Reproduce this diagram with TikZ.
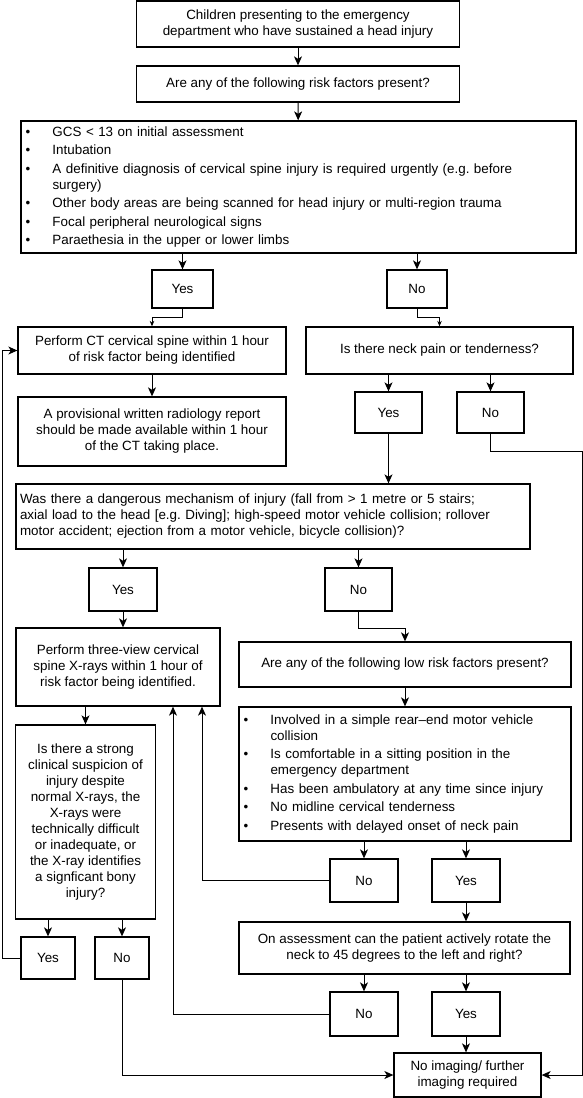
\documentclass[tikz,border=0pt]{standalone}
\usepackage{fontspec}
\setmainfont{Liberation Sans}
\usetikzlibrary{arrows.meta, positioning, calc}

\newcommand{\txt}{\fontsize{13.4}{16}\selectfont\frenchspacing}
\newcommand{\bul}[1]{\noindent\hangindent=27pt\hangafter=1\makebox[27pt][l]{\textbullet}#1\par}

\begin{document}
\begin{tikzpicture}[
    x=1pt, y=-1pt,
    box/.style={draw, line width=1.3pt, align=center, inner sep=0pt, font=\txt},
    lst/.style={draw, line width=1.3pt, align=left, inner xsep=4.5pt, inner ysep=0pt, font=\txt\setlength{\parskip}{2.5pt}},
    arr/.style={-{Stealth[length=9pt, width=8pt, inset=2.5pt]}, line width=1pt},
    arrs/.style={-{Stealth[length=5.5pt, width=4.5pt]}, line width=0.8pt}
]
\useasboundingbox (0,0) rectangle (583,1098);

% Top: presentation and high risk factors
\node[box, minimum width=323pt, minimum height=46pt] (start) at (298,24) {Children presenting to the emergency\\department who have sustained a head injury};
\node[box, minimum width=323pt, minimum height=36pt] (riskq) at (298,84) {Are any of the following risk factors present?};
\node[lst, text width=546pt, minimum height=132pt] (risklist) at (298.5,187) {%
\bul{GCS < 13 on initial assessment}
\bul{Intubation}
\bul{A definitive diagnosis of cervical spine injury is required urgently (e.g. before\newline surgery)}
\bul{Other body areas are being scanned for head injury or multi-region trauma}
\bul{Focal peripheral neurological signs}
\bul{Paraethesia in the upper or lower limbs}};
\node[box, minimum width=61pt, minimum height=38pt] (yesA) at (182.5,289) {Yes};
\node[box, minimum width=60pt, minimum height=38pt] (noA) at (417,289) {No};

% CT branch
\node[box, minimum width=268pt, minimum height=47pt] (ct) at (152,350.5) {Perform CT cervical spine within 1 hour\\of risk factor being identified};
\node[box, minimum width=268pt, minimum height=69pt] (report) at (152,431.5) {A provisional written radiology report\\should be made available within 1 hour\\of the CT taking place.};

% Neck pain
\node[box, minimum width=267pt, minimum height=47pt] (neck) at (439.5,350.5) {Is there neck pain or tenderness?};
\node[box, minimum width=67pt, minimum height=41pt] (yesB) at (388.5,412.5) {Yes};
\node[box, minimum width=67pt, minimum height=41pt] (noB) at (490.5,412.5) {No};

% Dangerous mechanism
\node[box, align=left, text width=506pt, inner xsep=4pt, minimum height=65pt] (danger) at (273,516.5) {Was there a dangerous mechanism of injury (fall from > 1 metre or 5 stairs;\\axial load to the head [e.g. Diving]; high-speed motor vehicle collision; rollover\\motor accident; ejection from a motor vehicle, bicycle collision)?};
\node[box, minimum width=68pt, minimum height=43pt] (yesC) at (123,589.5) {Yes};
\node[box, minimum width=67pt, minimum height=43pt] (noC) at (358.5,589.5) {No};

% X-ray branch
\node[box, minimum width=204pt, minimum height=78pt] (xray) at (118,667) {Perform three-view cervical\\spine X-rays within 1 hour of\\risk factor being identified.};
\node[box, minimum width=140pt, minimum height=194pt] (xq) at (85.5,822) {Is there a strong\\clinical suspicion of\\injury despite\\normal X-rays, the\\X-rays were\\technically difficult\\or inadequate, or\\the X-ray identifies\\a signficant bony\\injury?};
\node[box, minimum width=54pt, minimum height=42pt] (yesE) at (48,958) {Yes};
\node[box, minimum width=54pt, minimum height=42pt] (noE) at (122,958) {No};

% Low risk factors
\node[box, minimum width=332pt, minimum height=45pt] (lowq) at (405,664.5) {Are any of the following low risk factors present?};
\node[lst, text width=323pt, minimum height=134pt] (lowlist) at (405,774) {%
\bul{Involved in a simple rear--end motor vehicle\newline collision}
\bul{Is comfortable in a sitting position in the\newline emergency department}
\bul{Has been ambulatory at any time since injury}
\bul{No midline cervical tenderness}
\bul{Presents with delayed onset of neck pain}};
\node[box, minimum width=68pt, minimum height=43pt] (noD) at (364,880.5) {No};
\node[box, minimum width=68pt, minimum height=43pt] (yesD) at (466,880.5) {Yes};

% Rotation test
\node[box, minimum width=331pt, minimum height=52pt] (rot) at (404.5,948) {On assessment can the patient actively rotate the\\neck to 45 degrees to the left and right?};
\node[box, minimum width=68pt, minimum height=44pt] (noF) at (364,1014) {No};
\node[box, minimum width=68pt, minimum height=44pt] (yesF) at (466,1014) {Yes};
\node[box, minimum width=147pt, minimum height=44pt] (final) at (467.5,1075) {No imaging/ further\\imaging required};

% Connections
\draw[arr] (start) -- (riskq);
\draw[arr] (riskq) -- (risklist);
\draw[arr] (yesA |- risklist.south) -- (yesA);
\draw[arr] (noA |- risklist.south) -- (noA);
\draw[arrs] (yesA.south) -- ++(0,9) -| (ct.north);
\draw[arrs] (noA.south) -- ++(0,9) -| (neck.north);
\draw[arr] (ct) -- (report);
\draw[arr] (yesB |- neck.south) -- (yesB);
\draw[arr] (noB |- neck.south) -- (noB);
\draw[arr] (yesB) -- (yesB |- danger.north);
\coordinate (rail) at (582,451);
\draw[arr] (noB.south) |- (rail) |- (final.east);
\draw[arr] (yesC |- danger.south) -- (yesC);
\draw[arr] (noC |- danger.south) -- (noC);
\draw[arr] (yesC) -- (yesC |- xray.north);
\draw[arr] (noC.south) -- ++(0,17) -| (lowq.north);
\draw[arr] (xq |- xray.south) -- (xq);
\draw[arr] (lowq) -- (lowlist);
\draw[arr] (noD |- lowlist.south) -- (noD);
\draw[arr] (yesD |- lowlist.south) -- (yesD);
\draw[arr] (noD.west) -| ([xshift=84pt]xray.south);
\draw[arr] (yesD) -- (yesD |- rot.north);
\draw[arr] (noF |- rot.south) -- (noF);
\draw[arr] (yesF |- rot.south) -- (yesF);
\draw[arr] (noF.west) -| ([xshift=55pt]xray.south);
\draw[arr] (yesF) -- (yesF |- final.north);
\draw[arr] (yesE |- xq.south) -- (yesE);
\draw[arr] (noE |- xq.south) -- (noE);
\draw[arr] (yesE.west) -- ++(-18,0) |- (ct.west);
\draw[arr] (noE.south) |- (final.west);

\end{tikzpicture}
\end{document}
